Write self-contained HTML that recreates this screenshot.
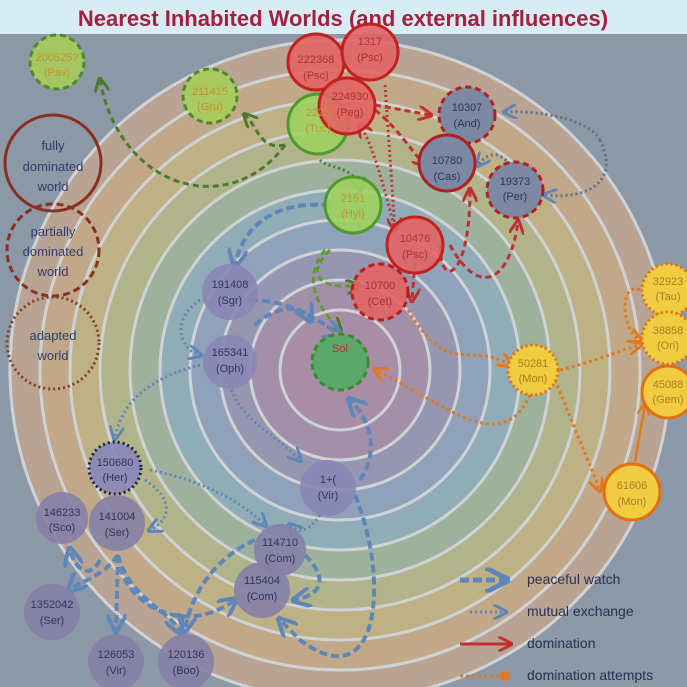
<!DOCTYPE html>
<html><head><meta charset="utf-8"><style>
html,body{margin:0;padding:0;background:#d8ecf4}
svg{display:block}
text{font-family:"Liberation Sans",sans-serif}
</style></head><body>
<svg width="687" height="687" viewBox="0 0 687 687" xmlns="http://www.w3.org/2000/svg">
<defs>
<marker id="ab" viewBox="0 0 10 10" refX="8" refY="5" markerWidth="5" markerHeight="5" orient="auto"><path d="M0,0L10,5L0,10" fill="none" stroke="#5f86b8" stroke-width="2"/></marker>
<marker id="ar" viewBox="0 0 10 10" refX="8" refY="5" markerWidth="5" markerHeight="5" orient="auto"><path d="M0,0L10,5L0,10" fill="none" stroke="#c03030" stroke-width="2"/></marker>
<marker id="ag" viewBox="0 0 10 10" refX="8" refY="5" markerWidth="5" markerHeight="5" orient="auto"><path d="M0,0L10,5L0,10" fill="none" stroke="#4c7a30" stroke-width="2"/></marker>
<marker id="ao" viewBox="0 0 10 10" refX="8" refY="5" markerWidth="5" markerHeight="5" orient="auto"><path d="M0,0L10,5L0,10" fill="none" stroke="#e07a20" stroke-width="2"/></marker>
<clipPath id="c"><rect x="0" y="34" width="687" height="653"/></clipPath>
</defs>
<rect x="0" y="0" width="687" height="687" fill="#d8ecf4"/>
<rect x="0" y="34" width="687" height="653" fill="#8d98a6"/>
<g clip-path="url(#c)">
<g stroke="#e4e4e4" stroke-width="3" opacity="0.78">
<circle cx="340" cy="370" r="330" fill="#c6a890"/>
<circle cx="340" cy="370" r="300" fill="#d0ad80"/>
<circle cx="340" cy="370" r="270" fill="#cdb97e"/>
<circle cx="340" cy="370" r="240" fill="#bcbd84"/>
<circle cx="340" cy="370" r="210" fill="#a2b99a"/>
<circle cx="340" cy="370" r="180" fill="#92b2bc"/>
<circle cx="340" cy="370" r="150" fill="#90a6c0"/>
<circle cx="340" cy="370" r="120" fill="#9a96b4"/>
<circle cx="340" cy="370" r="90" fill="#a88eaa"/>
<circle cx="340" cy="370" r="60" fill="#b08aa6"/>
</g>
</g>
<text x="343" y="26" text-anchor="middle" font-size="22" font-weight="bold" fill="#a32040">Nearest Inhabited Worlds (and external influences)</text>

<g fill="none" stroke-width="3">
<path d="M285,145 C230,220 120,190 100,80" stroke="#4c7a30" stroke-dasharray="6,4" marker-end="url(#ag)"/>
<path d="M285,145 C260,150 260,130 245,115" stroke="#4c7a30" stroke-dasharray="6,4" marker-end="url(#ag)"/>
<path d="M320,160 C330,170 355,165 360,190" stroke="#4c7a30" stroke-dasharray="2,3" marker-end="url(#ag)"/>
<path d="M330,250 C300,280 330,290 358,285" stroke="#5f9a30" stroke-dasharray="6,4" marker-end="url(#ag)"/>
<path d="M325,250 C300,280 320,310 340,330" stroke="#5f9a30" stroke-dasharray="6,4" marker-end="url(#ag)"/>
<path d="M375,105 L430,115" stroke="#c03030" stroke-dasharray="6,4" marker-end="url(#ar)"/>
<path d="M375,110 C400,130 410,150 425,165" stroke="#c03030" stroke-dasharray="6,4" marker-end="url(#ar)"/>
<path d="M385,85 L395,230" stroke="#c03030" stroke-dasharray="2,3" marker-end="url(#ar)"/>
<path d="M395,230 C380,170 370,140 360,125" stroke="#c03030" stroke-dasharray="2,3" marker-end="url(#ar)"/>
<path d="M415,262 L412,300" stroke="#c03030" stroke-dasharray="6,4" marker-end="url(#ar)"/>
<path d="M440,245 C440,290 470,280 470,190" stroke="#c03030" stroke-dasharray="6,4" marker-end="url(#ar)"/>
<path d="M450,245 C480,300 510,280 518,222" stroke="#c03030" stroke-dasharray="6,4" marker-end="url(#ar)"/>
<path d="M600,140 C620,180 590,200 545,195" stroke="#5f7090" stroke-dasharray="2,3" marker-end="url(#ab)"/>
<path d="M600,140 C590,120 540,110 505,112" stroke="#5f7090" stroke-dasharray="2,3" marker-end="url(#ab)"/>
<path d="M520,175 C500,150 490,150 478,165" stroke="#5f7090" stroke-dasharray="2,3" marker-end="url(#ab)"/>
<path d="M330,205 C260,200 240,240 235,265" stroke="#5f86b8" stroke-dasharray="8,4" stroke-width="4" marker-end="url(#ab)"/>
<path d="M250,300 C300,300 330,330 340,335" stroke="#5f86b8" stroke-dasharray="8,4" stroke-width="4" marker-end="url(#ab)"/>
<path d="M255,325 C270,310 300,300 310,320" stroke="#5f86b8" stroke-dasharray="8,4" stroke-width="4" marker-end="url(#ab)"/>
<path d="M200,300 C170,320 180,350 200,355" stroke="#5f86b8" stroke-dasharray="2,3" marker-end="url(#ab)"/>
<path d="M408,310 C450,380 470,340 510,365" stroke="#e07a20" stroke-dasharray="3,3" marker-end="url(#ao)"/>
<path d="M530,395 C500,460 440,400 375,370" stroke="#e07a20" stroke-dasharray="3,3" marker-end="url(#ao)"/>
<path d="M555,380 L600,490" stroke="#e07a20" stroke-dasharray="3,3" marker-end="url(#ao)"/>
<path d="M560,370 C600,360 620,350 640,345" stroke="#e07a20" stroke-dasharray="3,3" marker-end="url(#ao)"/>
<path d="M635,462 L645,405" stroke="#e07a20" stroke-width="2.5" marker-end="url(#ao)"/>
<path d="M640,290 C620,280 620,330 640,340" stroke="#e07a20" stroke-dasharray="3,3" marker-end="url(#ao)"/>
<path d="M200,365 C140,380 120,410 115,438" stroke="#5f86b8" stroke-dasharray="2,3" marker-end="url(#ab)"/>
<path d="M230,385 C240,420 270,430 300,460" stroke="#5f86b8" stroke-dasharray="2,3" marker-end="url(#ab)"/>
<path d="M360,480 C380,450 370,420 350,400" stroke="#5f86b8" stroke-dasharray="8,4" stroke-width="4" marker-end="url(#ab)"/>
<path d="M150,470 C200,480 240,500 265,525" stroke="#5f86b8" stroke-dasharray="2,3" marker-end="url(#ab)"/>
<path d="M320,515 C310,530 300,535 290,525" stroke="#5f86b8" stroke-dasharray="2,3" marker-end="url(#ab)"/>
<path d="M145,480 C175,500 170,520 150,530" stroke="#5f86b8" stroke-dasharray="2,3" marker-end="url(#ab)"/>
<path d="M355,495 C390,580 380,700 300,640 L280,620" stroke="#5f86b8" stroke-dasharray="8,4" stroke-width="4" marker-end="url(#ab)"/>
<path d="M118,555 C120,600 180,640 235,600" stroke="#5f86b8" stroke-dasharray="8,4" stroke-width="4" marker-end="url(#ab)"/>
<path d="M118,555 L116,630" stroke="#5f86b8" stroke-dasharray="8,4" stroke-width="4" marker-end="url(#ab)"/>
<path d="M118,555 C130,600 170,610 180,632" stroke="#5f86b8" stroke-dasharray="8,4" stroke-width="4" marker-end="url(#ab)"/>
<path d="M118,555 C100,580 80,580 70,590" stroke="#5f86b8" stroke-dasharray="8,4" stroke-width="4" marker-end="url(#ab)"/>
<path d="M100,560 C90,580 75,570 70,550" stroke="#5f86b8" stroke-dasharray="8,4" stroke-width="4" marker-end="url(#ab)"/>
<path d="M255,540 C210,560 190,600 185,630" stroke="#5f86b8" stroke-dasharray="8,4" stroke-width="4" marker-end="url(#ab)"/>
<path d="M305,555 C330,580 320,595 295,600" stroke="#5f86b8" stroke-dasharray="8,4" stroke-width="4" marker-end="url(#ab)"/>
</g>

<circle cx="53" cy="163" r="48" fill="none" stroke="#8a2f20" stroke-width="3"/>
<circle cx="53" cy="250" r="46" fill="none" stroke="#8a2f20" stroke-width="3" stroke-dasharray="7,4"/>
<circle cx="53" cy="343" r="46" fill="none" stroke="#8a3a20" stroke-width="3" stroke-dasharray="2,3"/>
<g font-size="13" fill="#2f3e6e" text-anchor="middle">
<text x="53" y="150">fully</text><text x="53" y="171">dominated</text><text x="53" y="191">world</text>
<text x="53" y="236">partially</text><text x="53" y="256">dominated</text><text x="53" y="276">world</text>
<text x="53" y="340">adapted</text><text x="53" y="360">world</text>
</g>

<g font-size="11" text-anchor="middle">
<g fill="#a6cc5a" fill-opacity="0.9" stroke="#4e8a2a" stroke-width="3" stroke-dasharray="6,4">
<circle cx="57" cy="62" r="27"/><circle cx="210" cy="96" r="27"/>
</g>
<circle cx="318" cy="124" r="30" fill="#9ed060" fill-opacity="0.9" stroke="#4e9a2a" stroke-width="3"/>
<circle cx="353" cy="205" r="28" fill="#9ed060" fill-opacity="0.9" stroke="#4e9a2a" stroke-width="3"/>
<circle cx="340" cy="362" r="28" fill="#5ca86a" stroke="#3c8a2a" stroke-width="3" stroke-dasharray="6,4"/>
<g fill="#e26464" fill-opacity="0.9" stroke="#c42020" stroke-width="3">
<circle cx="316" cy="62" r="28"/><circle cx="370" cy="52" r="28"/><circle cx="347" cy="106" r="28"/>
<circle cx="415" cy="245" r="28"/>
</g>
<circle cx="380" cy="292" r="28" fill="#e26464" fill-opacity="0.9" stroke="#b81c1c" stroke-width="3" stroke-dasharray="6,4"/>
<g fill="#7d88a2" stroke="#b02020" stroke-width="3">
<circle cx="467" cy="115" r="28" stroke-dasharray="6,4"/>
<circle cx="447" cy="163" r="28"/>
<circle cx="515" cy="190" r="28" stroke-dasharray="6,4"/>
</g>
<g fill="#f0cc40" stroke="#e07010" stroke-width="3">
<circle cx="668" cy="290" r="26" stroke-dasharray="2,3"/>
<circle cx="668" cy="338" r="26" stroke-dasharray="2,3"/>
<circle cx="668" cy="392" r="26"/>
<circle cx="533" cy="370" r="25" stroke-dasharray="2,3"/>
<circle cx="632" cy="492" r="28"/>
</g>
<g fill="#8a86b6" fill-opacity="0.9">
<circle cx="230" cy="292" r="28"/><circle cx="230" cy="362" r="27"/>
<circle cx="328" cy="488" r="28"/>
<circle cx="115" cy="468" r="26" stroke="#1a2040" stroke-width="3" stroke-dasharray="2,3"/>
</g>
<g fill="#857fa6" fill-opacity="0.9">
<circle cx="62" cy="518" r="26"/><circle cx="117" cy="523" r="28"/>
<circle cx="280" cy="550" r="26"/><circle cx="262" cy="590" r="28"/>
<circle cx="52" cy="612" r="28"/><circle cx="116" cy="662" r="28"/><circle cx="186" cy="662" r="28"/>
</g>
<g fill="#c8922a">
<text x="57" y="61">200525?</text><text x="57" y="76">(Pav)</text>
<text x="210" y="95">211415</text><text x="210" y="110">(Gru)</text>
<text x="318" y="116">2223</text><text x="318" y="132">(Tuc)</text>
<text x="353" y="202">2151</text><text x="353" y="217">(Hyi)</text>
</g>
<g fill="#b33030">
<text x="316" y="63">222368</text><text x="316" y="79">(Psc)</text>
<text x="370" y="45">1317</text><text x="370" y="61">(Psc)</text>
<text x="350" y="100">224930</text><text x="350" y="116">(Peg)</text>
<text x="415" y="242">10476</text><text x="415" y="258">(Psc)</text>
<text x="380" y="289">10700</text><text x="380" y="305">(Cet)</text>
<text x="340" y="352">Sol</text>
</g>
<g fill="#2e3460">
<text x="467" y="111">10307</text><text x="467" y="127">(And)</text>
<text x="447" y="164">10780</text><text x="447" y="180">(Cas)</text>
<text x="515" y="185">19373</text><text x="515" y="200">(Per)</text>
<text x="230" y="288">191408</text><text x="230" y="304">(Sgr)</text>
<text x="230" y="356">165341</text><text x="230" y="372">(Oph)</text>
<text x="328" y="483">1+(</text><text x="328" y="499">(Vir)</text>
<text x="115" y="466">150680</text><text x="115" y="481">(Her)</text>
<text x="62" y="516">146233</text><text x="62" y="531">(Sco)</text>
<text x="117" y="520">141004</text><text x="117" y="536">(Ser)</text>
<text x="280" y="546">114710</text><text x="280" y="562">(Com)</text>
<text x="262" y="584">115404</text><text x="262" y="600">(Com)</text>
<text x="52" y="608">1352042</text><text x="52" y="624">(Ser)</text>
<text x="116" y="658">126053</text><text x="116" y="674">(Vir)</text>
<text x="186" y="658">120136</text><text x="186" y="674">(Boo)</text>
</g>
<g fill="#b07a20">
<text x="668" y="285">32923</text><text x="668" y="300">(Tau)</text>
<text x="668" y="334">38858</text><text x="668" y="349">(Ori)</text>
<text x="668" y="388">45088</text><text x="668" y="403">(Gem)</text>
<text x="533" y="367">50281</text><text x="533" y="382">(Mon)</text>
<text x="632" y="489">61606</text><text x="632" y="505">(Mon)</text>
</g>
</g>

<g fill="none">
<path d="M460,580 L505,580" stroke="#5f86b8" stroke-width="5" stroke-dasharray="9,4" marker-end="url(#ab)"/>
<path d="M470,612 L505,612" stroke="#5f86b8" stroke-width="3" stroke-dasharray="2,3" marker-end="url(#ab)"/>
<path d="M460,644 L510,644" stroke="#c03030" stroke-width="3" marker-end="url(#ar)"/>
<path d="M460,676 L500,676" stroke="#e07a20" stroke-width="3" stroke-dasharray="3,3"/>
</g>
<circle cx="505" cy="676" r="5" fill="#e07a20"/>
<g font-size="14" fill="#2a2f55">
<text x="527" y="584">peaceful watch</text>
<text x="527" y="616">mutual exchange</text>
<text x="527" y="648">domination</text>
<text x="527" y="680">domination attempts</text>
</g>
</svg>
</body></html>
